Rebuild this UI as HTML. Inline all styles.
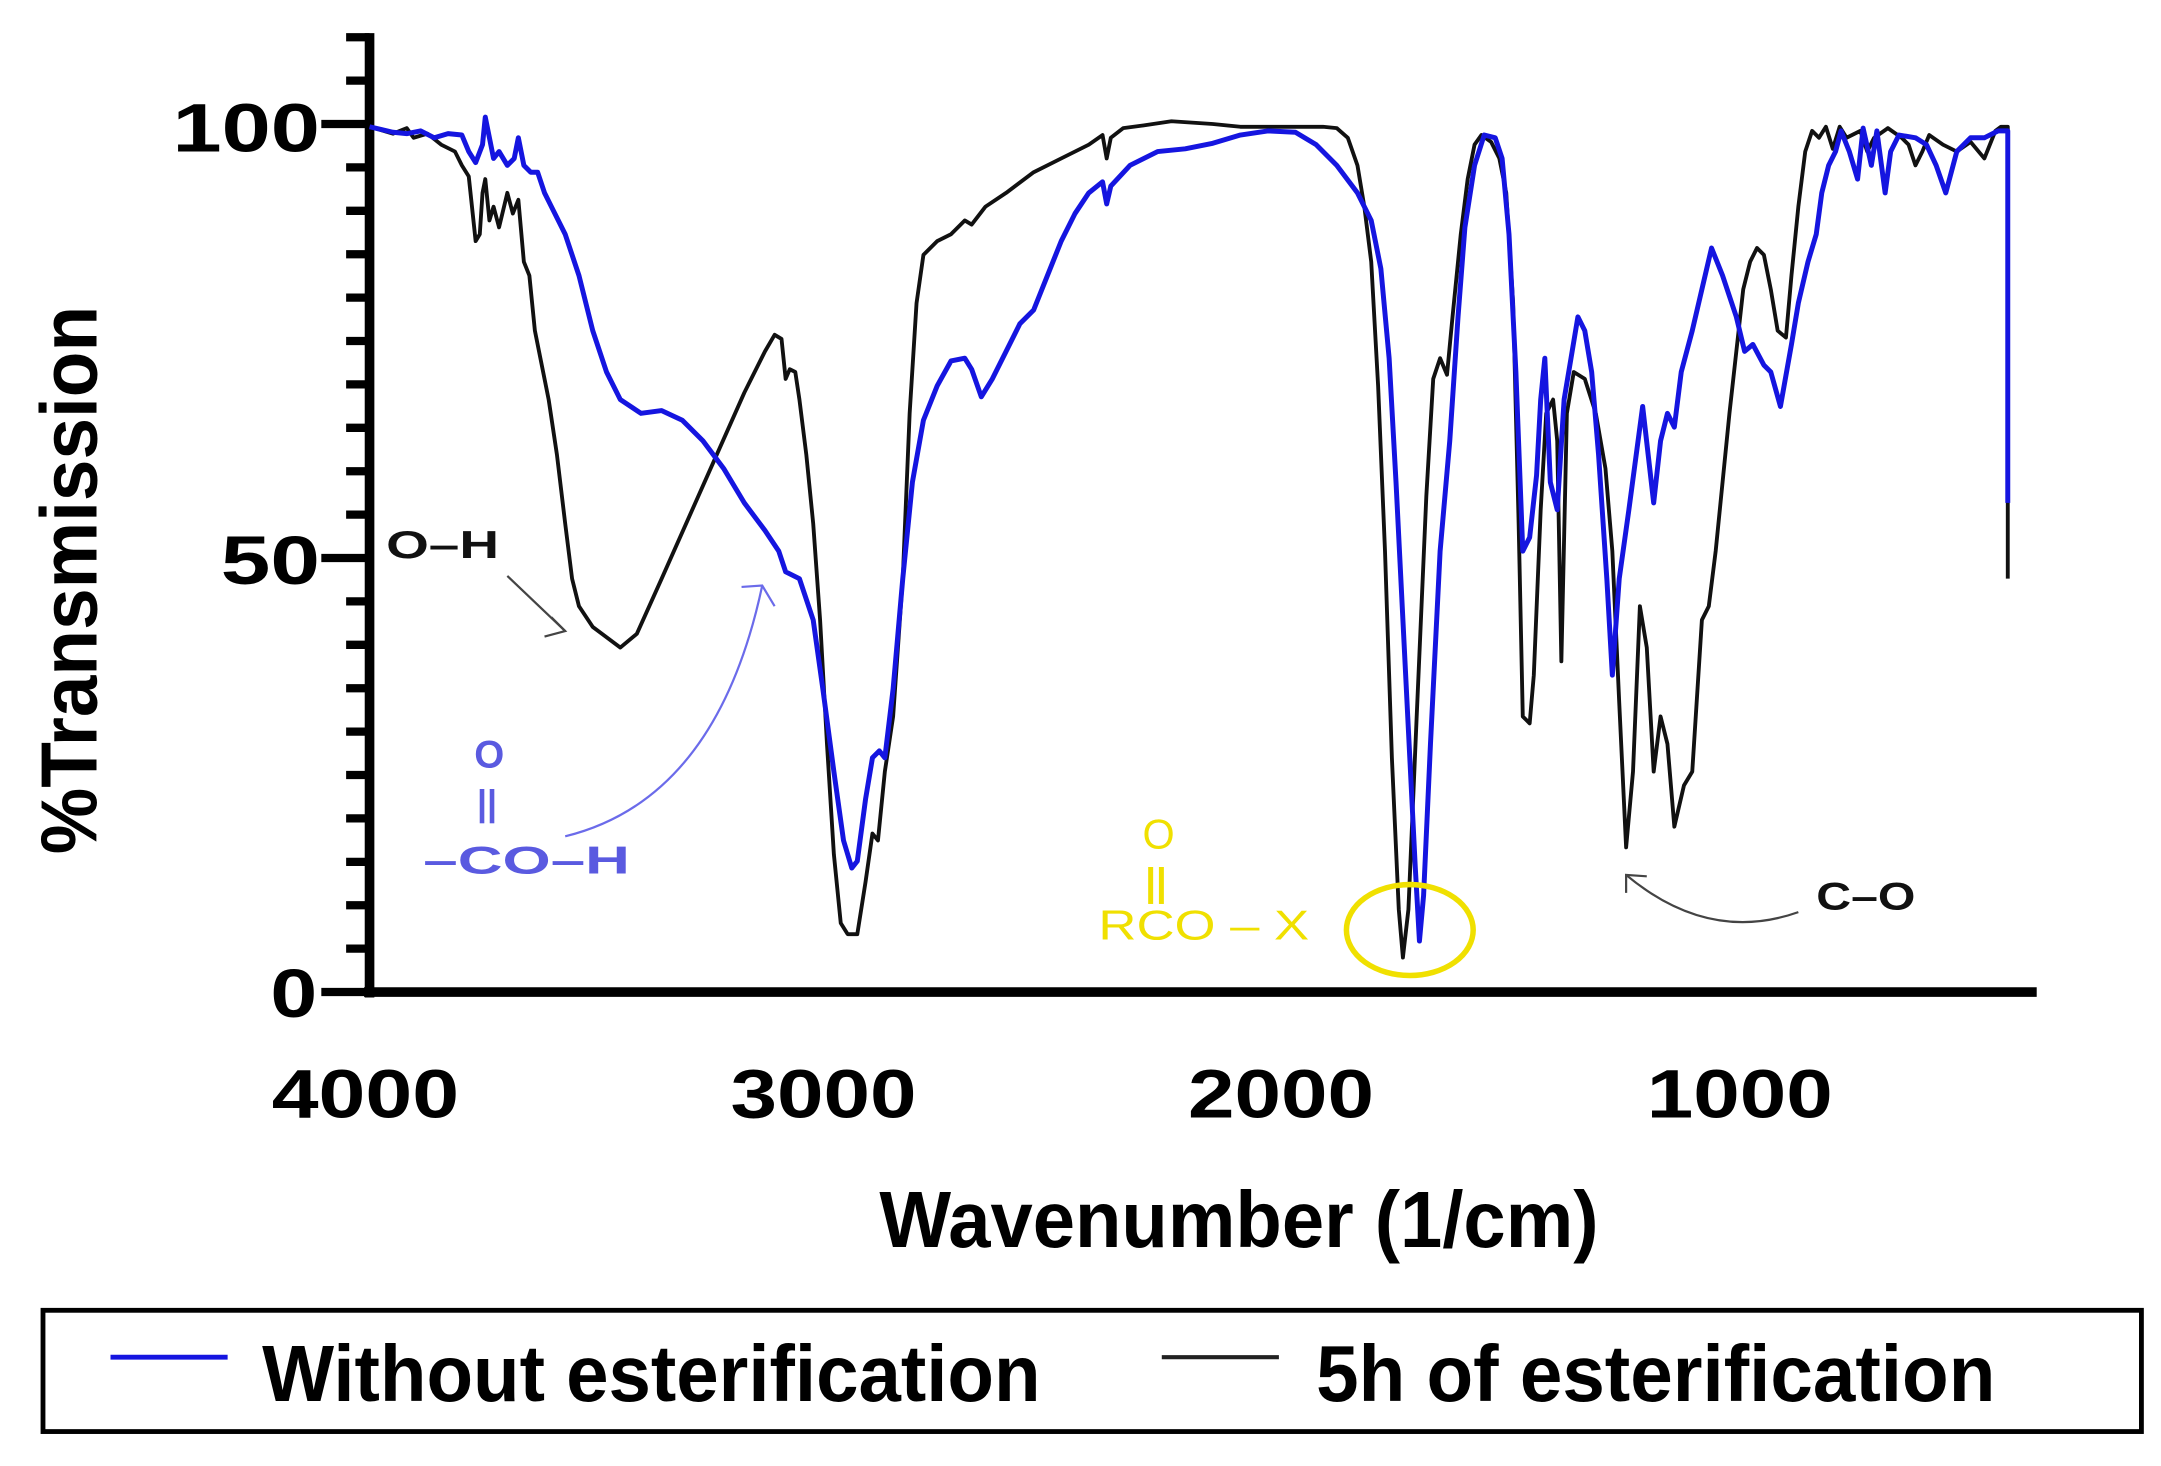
<!DOCTYPE html>
<html><head><meta charset="utf-8"><style>
html,body{margin:0;padding:0;background:#fff;}
svg{display:block;}
text{font-family:"Liberation Sans",Arial,sans-serif;}
</style></head><body>
<svg width="2161" height="1466" viewBox="0 0 1568 1064" xmlns="http://www.w3.org/2000/svg">
<rect width="1568" height="1064" fill="#fff"/>
<g stroke="#000" stroke-width="7" fill="none">
<line x1="268" y1="24" x2="268" y2="724"/>
<line x1="264" y1="720" x2="1478" y2="720"/>
</g>
<g stroke="#000" stroke-width="6">
<line x1="233" y1="90" x2="268" y2="90"/>
<line x1="233" y1="405" x2="268" y2="405"/>
<line x1="233" y1="720" x2="268" y2="720"/>
<line x1="251" y1="27" x2="268" y2="27"/><line x1="251" y1="58.5" x2="268" y2="58.5"/>
<line x1="251" y1="121.5" x2="268" y2="121.5"/><line x1="251" y1="153" x2="268" y2="153"/><line x1="251" y1="184.5" x2="268" y2="184.5"/><line x1="251" y1="216" x2="268" y2="216"/><line x1="251" y1="247.5" x2="268" y2="247.5"/><line x1="251" y1="279" x2="268" y2="279"/><line x1="251" y1="310.5" x2="268" y2="310.5"/><line x1="251" y1="342" x2="268" y2="342"/><line x1="251" y1="373.5" x2="268" y2="373.5"/>
<line x1="251" y1="436.5" x2="268" y2="436.5"/><line x1="251" y1="468" x2="268" y2="468"/><line x1="251" y1="499.5" x2="268" y2="499.5"/><line x1="251" y1="531" x2="268" y2="531"/><line x1="251" y1="562.5" x2="268" y2="562.5"/><line x1="251" y1="594" x2="268" y2="594"/><line x1="251" y1="625.5" x2="268" y2="625.5"/><line x1="251" y1="657" x2="268" y2="657"/><line x1="251" y1="688.5" x2="268" y2="688.5"/>
</g>
<g stroke="#000" stroke-width="6" id="xt"></g>
<script>
(function(){var g=document.getElementById('xt');var s='';
for(var i=0;i<=36;i++){var x=268+i*33.3;var major=(i%10==0);
s+='<line x1="'+x+'" y1="720" x2="'+x+'" y2="'+(major?752:743)+'"/>';}
g.innerHTML=s;})();
</script>
<g font-weight="bold" font-size="50" fill="#000">
<text x="125" y="110" textLength="107" lengthAdjust="spacingAndGlyphs">100</text>
<text x="160" y="424" textLength="72" lengthAdjust="spacingAndGlyphs">50</text>
<text x="196" y="738" textLength="34" lengthAdjust="spacingAndGlyphs">0</text>
<text x="197" y="811" textLength="136" lengthAdjust="spacingAndGlyphs">4000</text>
<text x="530" y="811" textLength="135" lengthAdjust="spacingAndGlyphs">3000</text>
<text x="862" y="811" textLength="135" lengthAdjust="spacingAndGlyphs">2000</text>
<text x="1195" y="811" textLength="135" lengthAdjust="spacingAndGlyphs">1000</text>
</g>
<text x="638" y="905" font-weight="bold" font-size="58" textLength="522" lengthAdjust="spacingAndGlyphs">Wavenumber (1/cm)</text>
<text transform="translate(70,620) rotate(-90)" font-weight="bold" font-size="58" textLength="398" lengthAdjust="spacingAndGlyphs">%Transmission</text>
<polyline fill="none" stroke="#111" stroke-width="2.8" stroke-linejoin="round" points="268,92 285,97 295,93 300,100 310,97 320,105 330,110 335,120 340,128 345,175 348,170 350,140 352,130 355,160 358,150 362,165 368,140 372,155 376,145 380,190 384,200 388,240 392,260 398,290 404,330 410,380 415,420 420,440 430,455 450,470 462,460 480,420 500,375 520,330 540,285 555,255 562,243 567,246 570,275 573,268 577,270 580,290 585,330 590,380 595,450 600,540 605,620 610,670 615,678 622,678 628,640 633,605 637,610 642,560 648,520 655,420 660,300 665,220 670,185 680,175 690,170 700,160 705,163 715,150 730,140 750,125 770,115 790,105 800,98 803,115 806,100 815,93 830,91 850,88 880,90 900,92 920,92 940,92 960,92 970,93 978,100 985,120 990,150 995,190 1000,280 1005,400 1010,550 1015,660 1018,695 1022,660 1028,520 1035,360 1040,275 1045,260 1050,272 1054,230 1060,170 1065,130 1070,105 1075,98 1082,103 1088,115 1093,140 1098,220 1102,380 1105,520 1110,525 1113,490 1118,370 1122,300 1127,290 1130,320 1133,480 1137,300 1142,270 1150,275 1158,300 1165,340 1170,400 1175,510 1180,615 1185,560 1190,440 1195,470 1200,560 1205,520 1210,540 1215,600 1222,570 1228,560 1235,450 1240,440 1245,400 1250,350 1255,300 1260,255 1265,210 1270,190 1275,180 1280,185 1285,210 1290,240 1296,245 1300,200 1305,150 1310,110 1315,95 1320,100 1325,92 1330,108 1335,92 1340,100 1350,95 1355,110 1360,100 1370,93 1380,100 1385,105 1390,120 1395,110 1400,98 1410,105 1420,110 1430,103 1440,115 1448,95 1452,92 1457,92 1457,420"/>
<polyline fill="none" stroke="#1515e0" stroke-width="3.6" stroke-linejoin="round" points="268,92 285,96 295,97 305,95 315,100 325,97 335,98 340,110 345,118 350,105 352,85 355,100 358,115 362,110 368,120 373,115 376,100 380,120 385,125 390,125 395,140 400,150 410,170 420,200 430,240 440,270 450,290 465,300 480,298 495,305 510,320 525,340 540,365 555,385 565,400 570,415 580,420 590,450 597,500 605,560 612,610 618,630 622,625 628,580 633,550 638,545 642,550 648,500 655,420 662,350 670,305 680,280 690,262 700,260 705,268 712,288 720,275 730,255 740,235 750,225 760,200 770,175 780,155 790,140 800,132 803,148 806,135 820,120 840,110 860,108 880,104 900,98 920,95 940,96 955,105 970,120 985,140 995,160 1002,195 1008,260 1013,350 1018,450 1022,530 1027,630 1030,683 1033,650 1038,540 1045,400 1052,320 1058,230 1063,165 1070,120 1077,98 1085,100 1090,115 1095,170 1100,270 1105,400 1110,390 1115,345 1118,290 1121,260 1125,350 1130,370 1135,290 1140,260 1145,230 1150,240 1155,270 1160,330 1166,420 1170,490 1175,420 1182,370 1188,325 1192,295 1196,330 1200,365 1205,320 1210,300 1215,310 1220,270 1228,240 1235,210 1242,180 1250,200 1255,215 1260,230 1266,255 1272,250 1280,265 1285,270 1292,295 1300,250 1305,220 1312,190 1318,170 1322,140 1327,120 1332,110 1336,95 1342,110 1348,130 1352,93 1358,120 1362,95 1368,140 1372,110 1378,98 1390,100 1398,105 1405,120 1412,140 1420,110 1430,100 1440,100 1450,95 1457,95 1457,365"/>
<text x="280" y="405" font-weight="bold" font-size="28" fill="#111" textLength="82" lengthAdjust="spacingAndGlyphs">O–H</text>
<g stroke="#444" stroke-width="1.6" fill="none">
<line x1="368" y1="418" x2="410" y2="458"/><polyline points="400,448 410,458 395,462"/>
<path d="M1305,662 Q1240,685 1180,635"/><polyline points="1180,648 1180,635 1195,636"/>
</g>
<g fill="#5a5ae0" font-weight="bold" font-size="28">
<text x="344" y="557">O</text>
<text x="346" y="592" font-size="26">||</text>
<text x="307" y="634" textLength="150" lengthAdjust="spacingAndGlyphs">–CO–H</text>
</g>
<g stroke="#6b6bea" stroke-width="1.6" fill="none">
<path d="M410,607 Q520,580 553,425"/><polyline points="538,426 553,425 562,440"/>
</g>
<g fill="#f0e000" font-size="30">
<text x="829" y="616">O</text>
<text x="831" y="650" font-size="28" font-weight="bold">||</text>
<text x="797" y="682" textLength="153" lengthAdjust="spacingAndGlyphs">RCO – X</text>
</g>
<ellipse cx="1023" cy="675" rx="46" ry="33" fill="none" stroke="#f0e000" stroke-width="4"/>
<text x="1318" y="660" font-weight="bold" font-size="28" fill="#111" textLength="72" lengthAdjust="spacingAndGlyphs">C–O</text>
<rect x="31" y="951" width="1523" height="88" fill="none" stroke="#000" stroke-width="3.5"/>
<line x1="80" y1="985" x2="165" y2="985" stroke="#1515e0" stroke-width="3.5"/>
<text x="190" y="1017" font-weight="bold" font-size="58" textLength="565" lengthAdjust="spacingAndGlyphs">Without esterification</text>
<line x1="843" y1="985" x2="928" y2="985" stroke="#222" stroke-width="3"/>
<text x="955" y="1017" font-weight="bold" font-size="58" textLength="493" lengthAdjust="spacingAndGlyphs">5h of esterification</text>
</svg>
</body></html>
